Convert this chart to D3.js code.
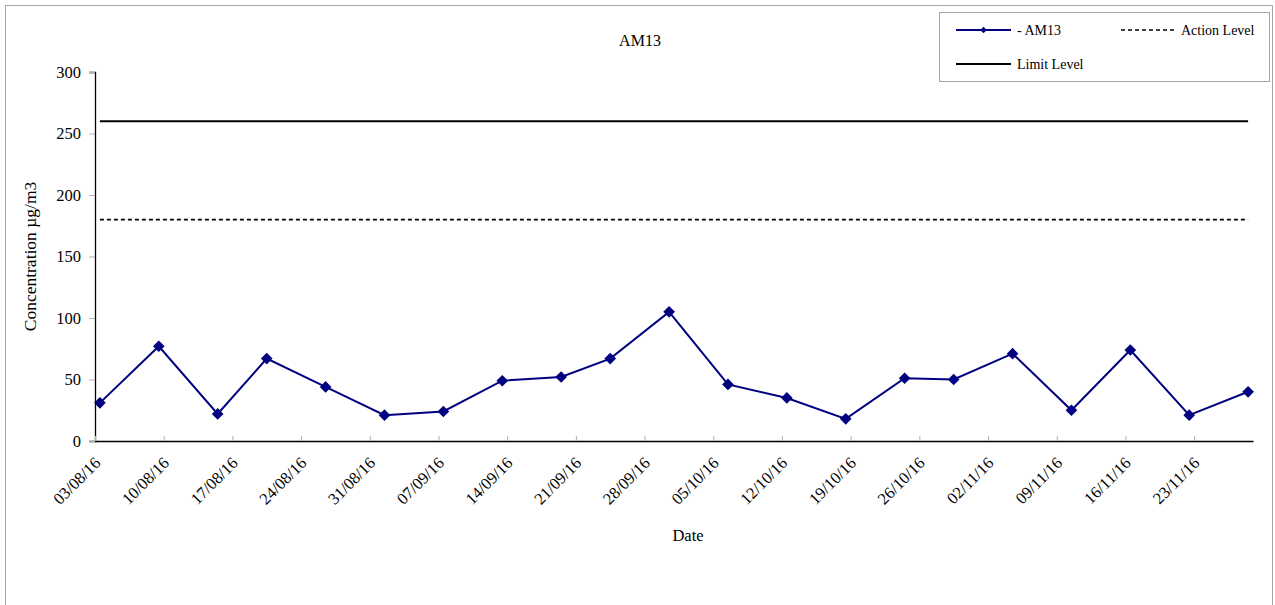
<!DOCTYPE html>
<html>
<head>
<meta charset="utf-8">
<script src="https://cdn.jsdelivr.net/npm/d3@7"></script>
<style>
  html, body { margin: 0; padding: 0; background: #fff; }
  svg { display: block; font-family: "Liberation Serif", "Times New Roman", serif; }
</style>
</head>
<body>
<svg id="chart" width="1275" height="605"></svg>
<script>
// ---- Data ----
const sampleDates = ["03/08/16","09/08/16","15/08/16","20/08/16","26/08/16","01/09/16","07/09/16",
  "13/09/16","19/09/16","24/09/16","30/09/16","06/10/16","12/10/16","18/10/16","24/10/16",
  "29/10/16","04/11/16","10/11/16","16/11/16","22/11/16","28/11/16"];
const am13Values = [31, 77, 22, 67, 44, 21, 24, 49, 52, 67, 105, 46, 35, 18, 51, 50, 71, 25, 74, 21, 40];
const actionLevel = 180;
const limitLevel = 260;
const tickLabels = ["03/08/16","10/08/16","17/08/16","24/08/16","31/08/16","07/09/16","14/09/16",
  "21/09/16","28/09/16","05/10/16","12/10/16","19/10/16","26/10/16","02/11/16","09/11/16",
  "16/11/16","23/11/16"];
const yTicks = [0, 50, 100, 150, 200, 250, 300];
const axisStart = "03/08/16";
const axisEnd = "29/11/16";

// ---- Helpers ----
const parse = d3.utcParse("%d/%m/%y");
const midDay = s => d3.utcHour.offset(parse(s), 12);

const svg = d3.select("#chart");

// outer border
svg.append("rect").attr("x", 5.5).attr("y", 5.5).attr("width", 1267).attr("height", 610)
  .attr("fill", "none").attr("stroke", "#a6a6a6").attr("stroke-width", 1);

const x = d3.scaleUtc().domain([parse(axisStart), parse(axisEnd)]).range([95, 1253]);
const y = d3.scaleLinear().domain([0, 300]).range([441, 72]);

// Y axis
const yAxis = svg.append("g").attr("transform", "translate(95,0)")
  .call(d3.axisLeft(y).tickValues(yTicks).tickSize(6).tickPadding(8).tickFormat(d3.format("d")));
yAxis.select(".domain").attr("stroke", "#000").attr("stroke-width", 1.3);
yAxis.selectAll(".tick line").attr("stroke", "#b0b0b0");
yAxis.selectAll(".tick text").attr("font-size", 16.5).attr("fill", "#000")
  .attr("font-family", "Liberation Serif");

// X axis
const xAxis = svg.append("g").attr("transform", "translate(0,441)")
  .call(d3.axisBottom(x).tickValues(tickLabels.map(parse)).tickSize(-5).tickSizeOuter(0)
    .tickFormat(d3.utcFormat("%d/%m/%y")));
xAxis.select(".domain").attr("stroke", "#000").attr("stroke-width", 1.6);
xAxis.selectAll(".tick line").attr("stroke", "#b0b0b0");
xAxis.selectAll(".tick text")
  .attr("font-size", 16.5).attr("fill", "#000").attr("font-family", "Liberation Serif")
  .attr("text-anchor", "end")
  .attr("dy", null).attr("y", null)
  .attr("transform", "translate(6,23) rotate(-45)");

// Reference lines spanning sample dates
const first = midDay(sampleDates[0]);
const last = midDay(sampleDates[sampleDates.length - 1]);
svg.append("line").attr("x1", x(first)).attr("x2", x(last))
  .attr("y1", y(limitLevel)).attr("y2", y(limitLevel))
  .attr("stroke", "#000").attr("stroke-width", 2);
svg.append("line").attr("x1", x(first)).attr("x2", x(last))
  .attr("y1", y(actionLevel)).attr("y2", y(actionLevel))
  .attr("stroke", "#000").attr("stroke-width", 1.6).attr("stroke-dasharray", "4,3");

// Series line
const pts = sampleDates.map((d, i) => ({ date: midDay(d), value: am13Values[i] }));
svg.append("path").datum(pts)
  .attr("fill", "none").attr("stroke", "#000080").attr("stroke-width", 2)
  .attr("d", d3.line().x(d => x(d.date)).y(d => y(d.value)));

const diamond = d3.symbol().type(d3.symbolSquare).size(68);
svg.selectAll(".pt").data(pts).enter().append("path")
  .attr("class", "pt")
  .attr("d", diamond)
  .attr("transform", d => `translate(${x(d.date)},${y(d.value)}) rotate(45)`)
  .attr("fill", "#000080");

// Title & axis titles
svg.append("text").attr("x", 640).attr("y", 46).attr("text-anchor", "middle")
  .attr("font-size", 16).text("AM13");
svg.append("text").attr("x", 688).attr("y", 541).attr("text-anchor", "middle")
  .attr("font-size", 16.5).text("Date");
svg.append("text").attr("transform", "translate(36,256.5) rotate(-90)")
  .attr("text-anchor", "middle").attr("font-size", 17.5).text("Concentration µg/m3");

// Legend
const lg = svg.append("g");
lg.append("rect").attr("x", 939.5).attr("y", 12.5).attr("width", 330).attr("height", 69)
  .attr("fill", "#fff").attr("stroke", "#a6a6a6");
lg.append("line").attr("x1", 956).attr("x2", 1011).attr("y1", 30).attr("y2", 30)
  .attr("stroke", "#000080").attr("stroke-width", 2);
lg.append("path").attr("d", d3.symbol().type(d3.symbolSquare).size(22))
  .attr("transform", "translate(983.5,30) rotate(45)").attr("fill", "#000080");
lg.append("text").attr("x", 1017).attr("y", 35).attr("font-size", 14).text("- AM13");
lg.append("line").attr("x1", 1121).attr("x2", 1174).attr("y1", 30).attr("y2", 30)
  .attr("stroke", "#000").attr("stroke-width", 1.6).attr("stroke-dasharray", "4,3");
lg.append("text").attr("x", 1181).attr("y", 35).attr("font-size", 14).text("Action Level");
lg.append("line").attr("x1", 956).attr("x2", 1011).attr("y1", 64).attr("y2", 64)
  .attr("stroke", "#000").attr("stroke-width", 2);
lg.append("text").attr("x", 1017).attr("y", 69).attr("font-size", 14).text("Limit Level");
</script>
</body>
</html>
